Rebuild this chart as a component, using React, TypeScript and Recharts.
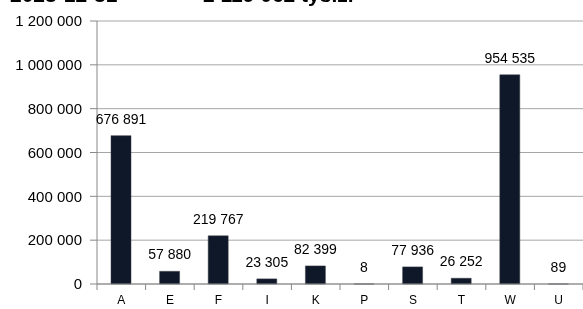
import React from "react";
import {
  BarChart,
  Bar,
  XAxis,
  YAxis,
  CartesianGrid,
  LabelList,
} from "recharts";

const categories = ["A", "E", "F", "I", "K", "P", "S", "T", "W", "U"];
const values = [676891, 57880, 219767, 23305, 82399, 8, 77936, 26252, 954535, 89];
const yTicks = [0, 200000, 400000, 600000, 800000, 1000000, 1200000];
const titleDate = "2023-12-31";
const titleTotal = "2 119 062 tys.zł";

const data = categories.map((name, i) => ({ name, value: values[i] }));

const fmt = (v: number) => String(v).replace(/\B(?=(\d{3})+(?!\d))/g, " ");

const BAND = 48.6;

const XTick = (props: any) => {
  const { x, y, payload, index } = props;
  const left = x - BAND / 2;
  return (
    <g>
      <line x1={left} y1={y - 8} x2={left} y2={y - 2} stroke="#888" />
      {index === categories.length - 1 && (
        <line x1={left + BAND} y1={y - 8} x2={left + BAND} y2={y - 2} stroke="#888" />
      )}
      <text x={x} y={y + 12} textAnchor="middle" fontSize={12} fill="#000">
        {payload.value}
      </text>
    </g>
  );
};

const ValueLabel = (props: any) => {
  const { x, y, width, value } = props;
  return (
    <text x={x + width / 2} y={y - 12} textAnchor="middle" fontSize={14} fill="#000">
      {fmt(Number(value))}
    </text>
  );
};

export default function App() {
  return (
    <div style={{ position: "fixed", left: 0, top: 0, width: 583, height: 309, background: "#fff", fontFamily: "'Liberation Sans', Arial, sans-serif" }}>
      <div style={{ position: "absolute", left: 10, top: -17, fontSize: 21, fontWeight: "bold", whiteSpace: "nowrap", color: "#000" }}>
        {titleDate}
      </div>
      <div style={{ position: "absolute", left: 203, top: -17, fontSize: 21, fontWeight: "bold", whiteSpace: "nowrap", color: "#000" }}>
        {titleTotal}
      </div>
      <BarChart
        width={583}
        height={309}
        data={data}
        margin={{ top: 21, right: 0, left: 0, bottom: 0 }}
        barCategoryGap={0}
      >
        <CartesianGrid vertical={false} stroke="#a6a6a6" />
        <XAxis
          dataKey="name"
          height={25}
          stroke="#888"
          tickLine={false}
          tick={<XTick />}
          interval={0}
        />
        <YAxis
          width={97}
          ticks={yTicks}
          domain={[0, 1200000]}
          stroke="#888"
          tickFormatter={fmt}
          tick={{ fontSize: 15, fill: "#000" }}
          tickSize={7}
          tickMargin={8}
        />
        <Bar dataKey="value" fill="#0f1828" stroke="#3a3f48" strokeWidth={0.5} barSize={20} isAnimationActive={false}>
          <LabelList dataKey="value" content={<ValueLabel />} />
        </Bar>
      </BarChart>
    </div>
  );
}
